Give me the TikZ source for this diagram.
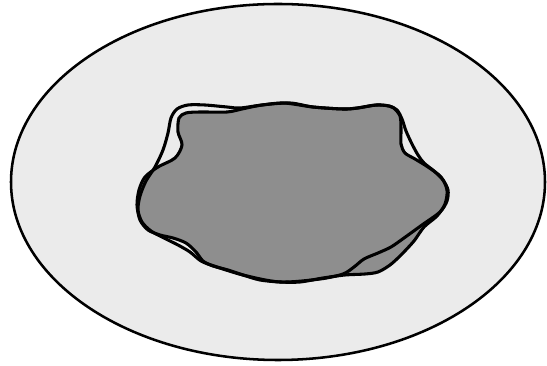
\documentclass[tikz,border=0pt]{standalone}
\definecolor{platefill}{HTML}{EBEBEB}
\definecolor{blobfill}{HTML}{8E8E8E}
\tikzset{
  plate/.style={fill=platefill, draw=black, line width=1.9pt},
  blob/.style={fill=blobfill, draw=black, line width=2.3pt, line join=round},
  sketchline/.style={draw=black, line width=2.3pt, line join=round}
}
\begin{document}
\begin{tikzpicture}[x=0.75pt, y=-0.75pt]
\useasboundingbox (0,0) rectangle (547,366);
% outer plate
\draw[plate] (278,182) ellipse [x radius=267, y radius=178];
% filled blob
\draw[blob] plot[smooth cycle, tension=0.5] coordinates {
 (178,132) (179,118) (186,113) (200,112) (227,112) (242,109) (262,105)
 (290,103) (313,107) (343,109) (358,108) (377,105) (392,107) (400,116)
 (401,130) (401,144) (405,153) (415,159) (428,167) (441,177) (447,190)
 (445,204) (437,216) (424,227) (414,241) (401,255) (390,265) (378,272)
 (365,274) (345,275) (323,278) (300,282) (280,282) (260,280) (243,275)
 (228,270) (213,266) (203,261) (196,252) (186,243) (173,238) (160,235)
 (148,230) (140,220) (137,205) (139,190) (145,177) (158,167) (175,158)
 (182,145)
};
% second sketch outline
\draw[sketchline] plot[smooth cycle, tension=0.5] coordinates {
 (188,105) (177,109) (171,118) (168,133) (163,150) (155,167) (146,181)
 (140,196) (138,210) (142,222) (151,231) (164,238) (178,245) (190,252)
 (201,261) (214,266) (243,275) (280,282) (320,279) (343,274) (354,267)
 (364,259) (378,253) (391,247) (404,238) (422,225) (440,212) (447,201)
 (448,190) (443,180) (434,171) (424,163) (418,155) (412,144) (406,131)
 (402,119) (397,110) (389,106) (376,105) (357,108) (343,109) (313,107)
 (284,103) (262,105) (240,108) (227,107) (205,105)
};
\end{tikzpicture}
\end{document}
